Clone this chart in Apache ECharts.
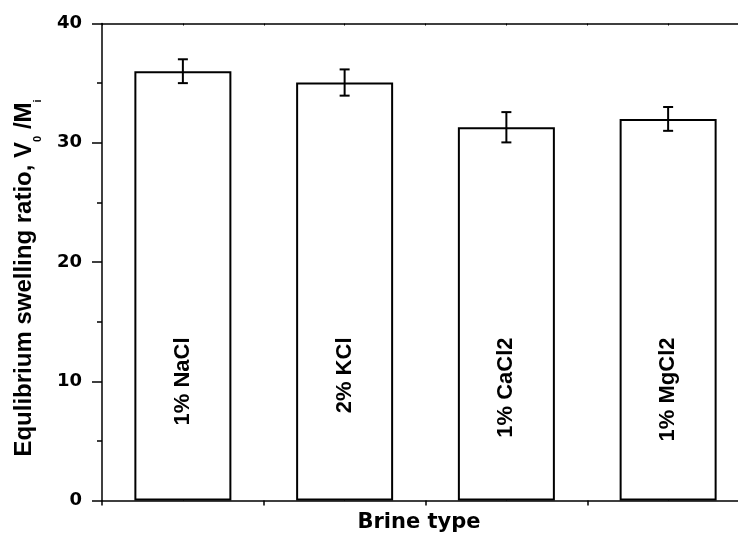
<!DOCTYPE html>
<html>
<head>
<meta charset="utf-8">
<script src="https://cdn.jsdelivr.net/npm/echarts@6/dist/echarts.min.js"></script>
<style>
  html, body { margin: 0; padding: 0; background: #ffffff; overflow: hidden; }
  /* the plot frame runs past the right edge of the window */
  #chart { width: 749px; height: 535px; }
</style>
</head>
<body>
<div id="chart"></div>
<script>
// Brine solutions tested
const brines = ['1% NaCl', '2% KCl', '1% CaCl2', '1% MgCl2'];
// Equilibrium swelling ratio V0/Mi for each brine
const swellingRatio = [36.0, 35.05, 31.3, 32.0];
// Standard deviation for each brine
const swellingError = [1.0, 1.1, 1.27, 1.0];
// Y axis tick values
const yTicks = [0, 10, 20, 30, 40];

const errorData = brines.map((b, i) => [i, swellingRatio[i] - swellingError[i], swellingRatio[i] + swellingError[i]]);

const black = '#000000';
const tickFont = { fontFamily: 'DejaVu Sans', fontWeight: 'bold', fontSize: 18, color: black };

const chart = echarts.init(document.getElementById('chart'), null, { renderer: 'canvas' });

chart.setOption({
  backgroundColor: '#ffffff',
  animation: false,
  grid: { left: 102, top: 23.5, right: 0, bottom: 34.5, containLabel: false },
  xAxis: [
    {
      type: 'category',
      data: brines,
      position: 'bottom',
      boundaryGap: true,
      axisLine: { show: true, lineStyle: { color: black, width: 1.5 } },
      axisTick: { show: true, length: 5, lineStyle: { color: black, width: 1.5 } },
      axisLabel: { show: false },
      splitLine: { show: false }
    },
    {
      // small inner ticks at the bar centres
      type: 'value',
      position: 'bottom',
      min: 0, max: 4, interval: 1,
      axisLine: { show: false },
      axisTick: { show: false, inside: true },
      minorTick: { show: true, splitNumber: 2, length: 2, lineStyle: { color: black, width: 1 } },
      axisLabel: { show: false },
      splitLine: { show: false },
      minorSplitLine: { show: false }
    },
    {
      // top frame line
      type: 'value',
      position: 'top',
      min: 0, max: 8, interval: 1,
      axisLine: { show: true, onZero: false, lineStyle: { color: black, width: 1.5 } },
      axisTick: { show: true, inside: true, length: 2, lineStyle: { color: black, width: 1 } },
      axisLabel: { show: false },
      splitLine: { show: false }
    }
  ],
  yAxis: {
    type: 'value',
    min: yTicks[0],
    max: yTicks[yTicks.length - 1],
    interval: yTicks[1] - yTicks[0],
    axisLine: { show: true, lineStyle: { color: black, width: 1.5 } },
    axisTick: { show: true, length: 10, lineStyle: { color: black, width: 1.5 } },
    minorTick: { show: true, splitNumber: 2, length: 5, lineStyle: { color: black, width: 1.5 } },
    axisLabel: Object.assign({ margin: 20 }, tickFont),
    splitLine: { show: false },
    minorSplitLine: { show: false }
  },
  graphic: [
    {
      type: 'text',
      x: 24,
      y: 278,
      rotation: Math.PI / 2,
      style: {
        text: '{t|Equlibrium swelling ratio, V}{s|0}{t| /M}{s|i}',
        align: 'center',
        verticalAlign: 'middle',
        fill: black,
        rich: {
          t: { fontFamily: 'Liberation Sans', fontWeight: 'bold', fontSize: 24, lineHeight: 38, verticalAlign: 'middle', fill: black },
          s: { fontFamily: 'Liberation Sans', fontWeight: 'bold', fontSize: 11, lineHeight: 38, verticalAlign: 'bottom', fill: black }
        }
      }
    },
    {
      type: 'text',
      x: 419,
      y: 523,
      style: {
        text: 'Brine type',
        align: 'center',
        verticalAlign: 'middle',
        fontFamily: 'DejaVu Sans',
        fontWeight: 'bold',
        fontSize: 21,
        fill: black
      }
    }
  ],
  series: [
    {
      type: 'bar',
      xAxisIndex: 0,
      yAxisIndex: 0,
      data: swellingRatio,
      barWidth: 97,
      itemStyle: { color: '#ffffff', borderColor: black, borderWidth: 2 },
      label: {
        show: true,
        formatter: '{b}',
        position: 'insideBottom',
        distance: 163,
        rotate: 90,
        align: 'right',
        verticalAlign: 'middle',
        fontFamily: 'Liberation Sans',
        fontWeight: 'bold',
        fontSize: 22,
        color: black
      },
      emphasis: { disabled: true }
    },
    {
      type: 'custom',
      xAxisIndex: 0,
      yAxisIndex: 0,
      data: errorData,
      encode: { x: 0, y: [1, 2] },
      renderItem: function (params, api) {
        const lo = api.coord([api.value(0), api.value(1)]);
        const hi = api.coord([api.value(0), api.value(2)]);
        const half = 5;
        const style = { stroke: black, lineWidth: 2 };
        return {
          type: 'group',
          children: [
            { type: 'line', shape: { x1: hi[0], y1: hi[1], x2: lo[0], y2: lo[1] }, style: style },
            { type: 'line', shape: { x1: hi[0] - half, y1: hi[1], x2: hi[0] + half, y2: hi[1] }, style: style },
            { type: 'line', shape: { x1: lo[0] - half, y1: lo[1], x2: lo[0] + half, y2: lo[1] }, style: style }
          ]
        };
      },
      z: 5
    }
  ]
});
</script>
</body>
</html>
